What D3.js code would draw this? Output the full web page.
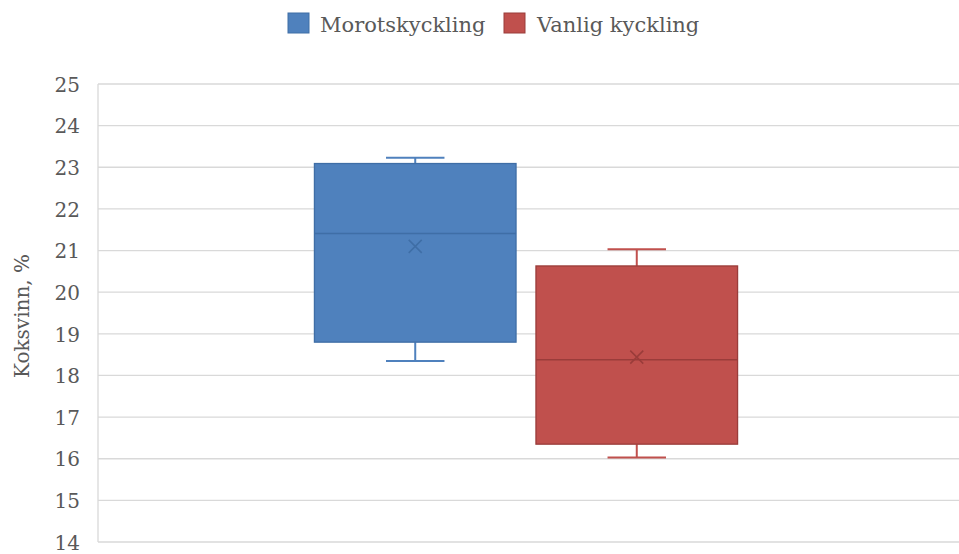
<!DOCTYPE html>
<html>
<head>
<meta charset="utf-8">
<script src="https://cdn.jsdelivr.net/npm/d3@7"></script>
<style>
  html, body { margin: 0; padding: 0; background: #ffffff; }
  svg { display: block; }
</style>
</head>
<body>
<svg id="chart" width="959" height="554"></svg>
<script>
// Box-and-whisker summary per group
const groups = [""];
const seriesNames = ["Morotskyckling", "Vanlig kyckling"];
const minValues = [18.35, 16.03];
const q1Values = [18.80, 16.35];
const medianValues = [21.41, 18.38];
const q3Values = [23.09, 20.63];
const maxValues = [23.23, 21.03];
const meanValues = [21.10, 18.44];
const yTickValues = [14, 15, 16, 17, 18, 19, 20, 21, 22, 23, 24, 25];
const yTitle = "Koksvinn, %";

const fills = ["#4f81bd", "#c0504d"];
const strokes = ["#3f6ea6", "#9a3c3a"];

const svg = d3.select("#chart");
const W = 959, H = 554;
const plot = { left: 98, right: 959, top: 84, bottom: 542 };
const font = "'DejaVu Serif', serif";
const textColor = "#595959";

const y = d3.scaleLinear().domain([14, 25]).range([plot.bottom, plot.top]);
const x0 = d3.scaleBand().domain(groups).range([plot.left, 954])
  .paddingInner(0).paddingOuter(0.466);
const x1 = d3.scaleBand().domain(seriesNames).range([0, x0.bandwidth()])
  .paddingInner(0.09).paddingOuter(0.045);

// Gridlines
svg.append("g").selectAll("line").data(yTickValues).join("line")
  .attr("x1", plot.left).attr("x2", plot.right)
  .attr("y1", d => y(d)).attr("y2", d => y(d))
  .attr("stroke", "#d9d9d9").attr("stroke-width", 1.3);

// Vertical axis line
svg.append("line")
  .attr("x1", plot.left).attr("x2", plot.left)
  .attr("y1", plot.top).attr("y2", plot.bottom)
  .attr("stroke", "#d9d9d9").attr("stroke-width", 1.3);

// Y axis labels
const yAxis = d3.axisLeft(y).tickValues(yTickValues).tickSize(0).tickPadding(0);
const gy = svg.append("g").attr("transform", `translate(${plot.left - 18},0)`).call(yAxis);
gy.select(".domain").remove();
gy.selectAll("text")
  .attr("font-family", font).attr("font-size", 20).attr("fill", textColor)
  .attr("dy", "0.36em");

// Y title
svg.append("text")
  .attr("transform", `translate(29,${(plot.top + plot.bottom) / 2 + 3}) rotate(-90)`)
  .attr("text-anchor", "middle")
  .attr("font-family", font).attr("font-size", 20).attr("fill", textColor)
  .text(yTitle);

// Boxes
const boxData = seriesNames.map((name, i) => ({
  name, i, min: minValues[i], q1: q1Values[i], med: medianValues[i],
  q3: q3Values[i], max: maxValues[i], mean: meanValues[i], group: groups[0]
}));

const g = svg.append("g");
boxData.forEach(d => {
  const bx = x0(d.group) + x1(d.name);
  const bw = x1.bandwidth();
  const cx = bx + bw / 2;
  const capHalf = bw * 0.145;
  const sel = g.append("g");
  // whiskers
  sel.append("line").attr("x1", cx).attr("x2", cx)
    .attr("y1", y(d.q3)).attr("y2", y(d.max))
    .attr("stroke", fills[d.i]).attr("stroke-width", 2);
  sel.append("line").attr("x1", cx).attr("x2", cx)
    .attr("y1", y(d.q1)).attr("y2", y(d.min))
    .attr("stroke", fills[d.i]).attr("stroke-width", 2);
  [d.max, d.min].forEach(v => {
    sel.append("line").attr("x1", cx - capHalf).attr("x2", cx + capHalf)
      .attr("y1", y(v)).attr("y2", y(v))
      .attr("stroke", fills[d.i]).attr("stroke-width", 2);
  });
  // box
  sel.append("rect")
    .attr("x", bx).attr("y", y(d.q3))
    .attr("width", bw).attr("height", y(d.q1) - y(d.q3))
    .attr("fill", fills[d.i]).attr("stroke", strokes[d.i]).attr("stroke-width", 1.3);
  // median
  sel.append("line").attr("x1", bx).attr("x2", bx + bw)
    .attr("y1", y(d.med)).attr("y2", y(d.med))
    .attr("stroke", strokes[d.i]).attr("stroke-width", 1.5);
  // mean marker
  const m = 6.5, my = y(d.mean);
  sel.append("path")
    .attr("d", `M${cx - m},${my - m}L${cx + m},${my + m}M${cx - m},${my + m}L${cx + m},${my - m}`)
    .attr("stroke", strokes[d.i]).attr("stroke-width", 1.5).attr("fill", "none");
});

// Legend
const legendItems = [{ x: 288, textX: 320 }, { x: 504, textX: 537 }];
const lg = svg.append("g");
seriesNames.forEach((name, i) => {
  lg.append("rect").attr("x", legendItems[i].x).attr("y", 13)
    .attr("width", 21).attr("height", 20)
    .attr("fill", fills[i]).attr("stroke", strokes[i]).attr("stroke-width", 1);
  lg.append("text").attr("x", legendItems[i].textX).attr("y", 32)
    .attr("font-family", font).attr("font-size", 21).attr("fill", textColor)
    .text(name);
});
</script>
</body>
</html>
